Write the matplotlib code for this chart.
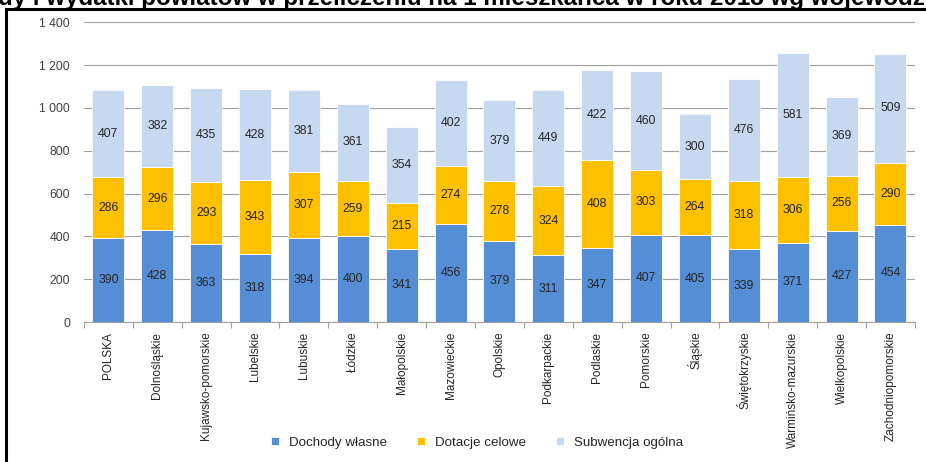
import numpy as np
import matplotlib
matplotlib.use('Agg')
import matplotlib.pyplot as plt
from matplotlib.lines import Line2D
from matplotlib.ticker import FuncFormatter, FixedLocator

plt.rcParams['font.family'] = ['Liberation Sans', 'DejaVu Sans']

# --- dane ---
wojewodztwa = ['POLSKA', 'Dolnośląskie', 'Kujawsko-pomorskie', 'Lubelskie', 'Lubuskie',
               'Łódzkie', 'Małopolskie', 'Mazowieckie', 'Opolskie', 'Podkarpackie',
               'Podlaskie', 'Pomorskie', 'Śląskie', 'Świętokrzyskie',
               'Warmińsko-mazurskie', 'Wielkopolskie', 'Zachodniopomorskie']
dochody_wlasne = [390, 428, 363, 318, 394, 400, 341, 456, 379, 311, 347, 407, 405, 339, 371, 427, 454]
dotacje_celowe = [286, 296, 293, 343, 307, 259, 215, 274, 278, 324, 408, 303, 264, 318, 306, 256, 290]
subwencja_ogolna = [407, 382, 435, 428, 381, 361, 354, 402, 379, 449, 422, 460, 300, 476, 581, 369, 509]

serie = [('Dochody własne', dochody_wlasne, '#558ED5'),
         ('Dotacje celowe', dotacje_celowe, '#FFC000'),
         ('Subwencja ogólna', subwencja_ogolna, '#C6D9F1')]

fig = plt.figure(figsize=(9.26, 4.62), dpi=100)
ax = fig.add_axes([0.0907, 0.303, 0.8973, 0.649])

x = np.arange(len(wojewodztwa))
dol = np.zeros(len(wojewodztwa))
for nazwa, vals, kolor in serie:
    vals = np.array(vals, dtype=float)
    ax.bar(x, vals, 0.655, bottom=dol, color=kolor, label=nazwa,
           edgecolor='white', linewidth=0.6, zorder=3)
    for xi, b, v in zip(x, dol, vals):
        ax.text(xi, b + v / 2, f'{int(v)}', ha='center', va='center',
                fontsize=8.8, color='#262626', zorder=4)
    dol += vals

# --- osie ---
ax.set_xlim(-0.5, len(wojewodztwa) - 0.5)
ax.set_ylim(0, 1400)
ax.set_yticks(np.arange(0, 1401, 200))
ax.yaxis.set_major_formatter(FuncFormatter(lambda v, p: f'{int(v):,}'.replace(',', ' ')))
ax.yaxis.grid(True, color='#A0A0A0', linewidth=0.8, zorder=0)
ax.set_axisbelow(True)
for s in ['top', 'right', 'left']:
    ax.spines[s].set_visible(False)
ax.spines['bottom'].set_color('#A0A0A0')
ax.spines['bottom'].set_linewidth(0.8)
ax.tick_params(axis='y', length=0, pad=10, labelsize=8.8, labelcolor='#404040')

ax.set_xticks(x)
ax.set_xticklabels(wojewodztwa, rotation=90, fontsize=8.5, color='#262626')
ax.tick_params(axis='x', which='major', length=0, pad=7)
ax.xaxis.set_minor_locator(FixedLocator(np.arange(-0.5, len(wojewodztwa), 1.0)))
ax.tick_params(axis='x', which='minor', length=4, color='#A0A0A0', width=0.8)

# --- legenda ---
ax.legend(loc='center', bbox_to_anchor=(0.473, -0.403), ncol=3, frameon=False,
          fontsize=9.6, handlelength=0.55, handleheight=0.55, handletextpad=0.75,
          columnspacing=2.3, labelcolor='#262626')

# --- ramka i ucięty tytuł ---
fig.add_artist(Line2D([0.006, 1.0], [0.9795, 0.9795], color='black', linewidth=2.2))
fig.add_artist(Line2D([0.006, 0.006], [0.0, 0.9795], color='black', linewidth=2.2))
fig.text(-0.002, 0.989, 'dy i wydatki powiatów w przeliczeniu na 1 mieszkańca w roku 2018 wg województw',
         ha='left', va='baseline', fontsize=17.4, fontweight='bold', color='black')

plt.savefig('out.png', dpi=100)
